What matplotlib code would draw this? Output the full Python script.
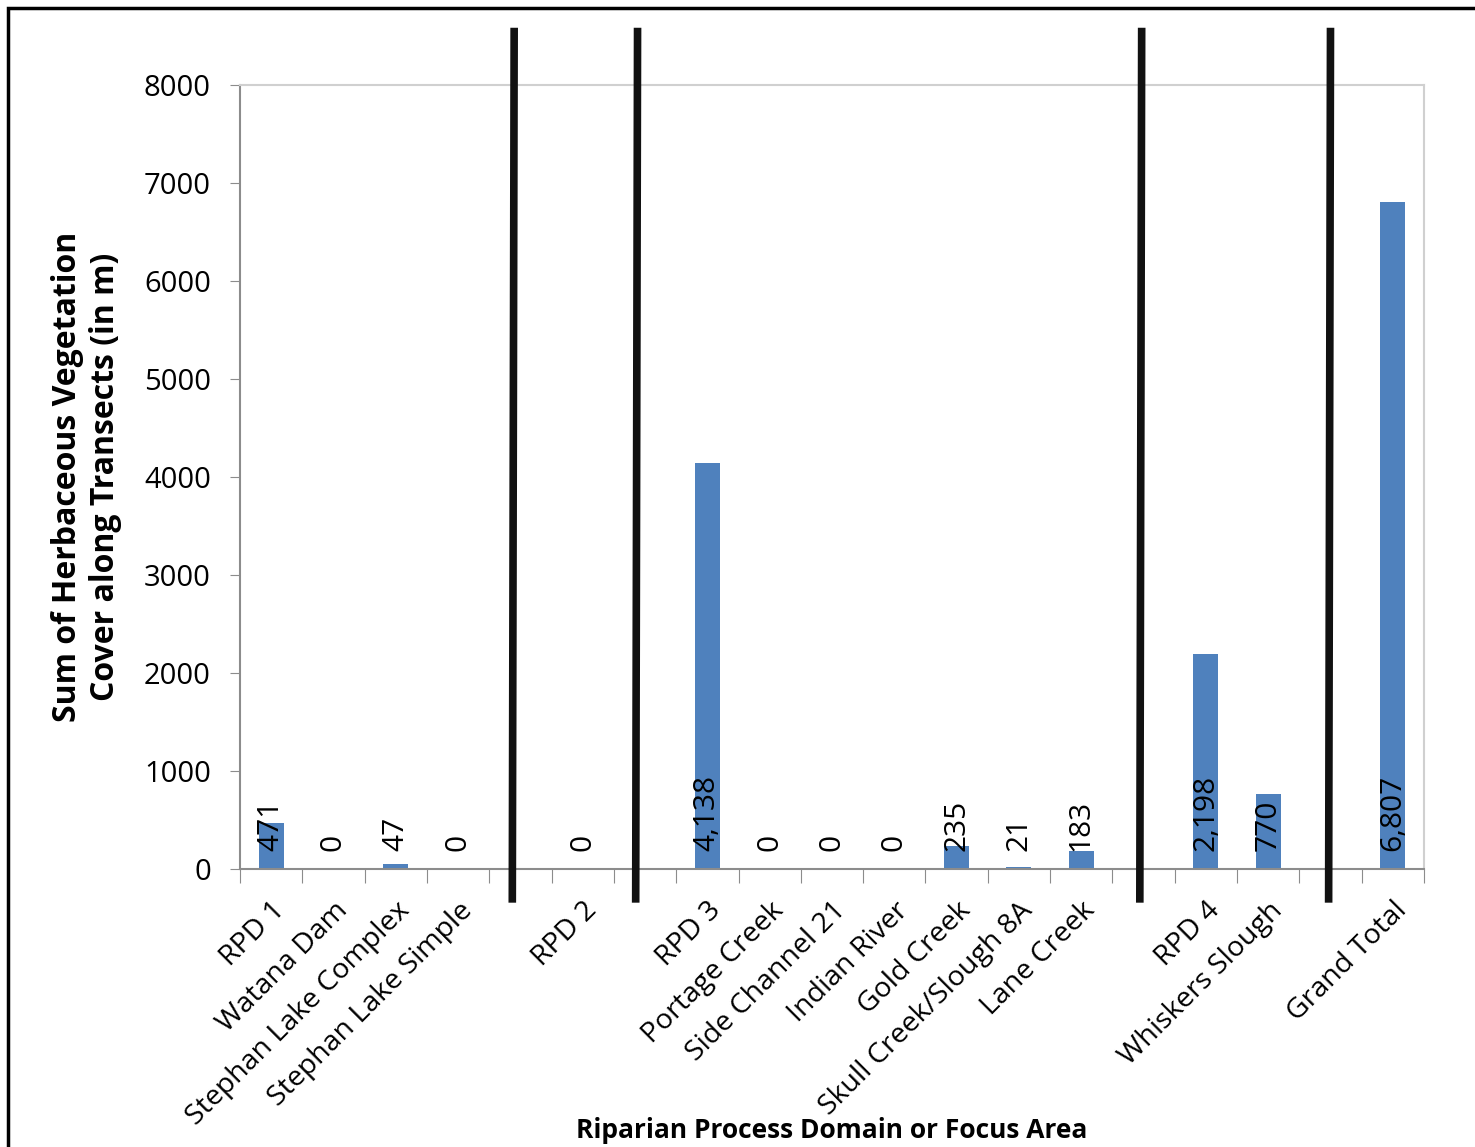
import matplotlib
matplotlib.use("Agg")
from matplotlib import pyplot as plt
from matplotlib.patches import Rectangle
import matplotlib.transforms as mtransforms
import numpy as np

plt.rcParams['font.family'] = ['Open Sans', 'DejaVu Sans']

# categories (blank strings are the empty gaps between the groups)
categories = ['RPD 1', 'Watana Dam', 'Stephan Lake Complex', 'Stephan Lake Simple', '',
              'RPD 2', '',
              'RPD 3', 'Portage Creek', 'Side Channel 21', 'Indian River', 'Gold Creek',
              'Skull Creek/Slough 8A', 'Lane Creek', '',
              'RPD 4', 'Whiskers Slough', '',
              'Grand Total']
values = [471, 0, 47, 0, None,
          0, None,
          4138, 0, 0, 0, 235, 21, 183, None,
          2198, 770, None,
          6807]

bar_color = '#4F81BD'
grey = '#8C8C8C'

fig = plt.figure(figsize=(14.75, 11.47), dpi=100)
ax = fig.add_axes([0.1627, 0.2424, 0.8027, 0.6835])

x = np.arange(len(categories))
heights = [v if v is not None else 0 for v in values]
ax.bar(x, heights, width=0.4, color=bar_color, zorder=2)

# data labels, rotated, sitting at the bar base
for xi, v in zip(x, values):
    if v is None:
        continue
    ax.annotate(f'{v:,}', xy=(xi, 0), xytext=(0, 13), textcoords='offset points',
                rotation=90, ha='center', va='bottom', fontsize=21.5, color='black', zorder=3)

ax.set_xlim(-0.5, len(categories) - 0.5)
ax.set_ylim(0, 8000)
ax.set_yticks(range(0, 8001, 1000))
ax.tick_params(axis='y', labelsize=21, length=7, color=grey, pad=14)

# category labels at centers, tick marks at boundaries (Excel style)
ax.set_xticks(np.arange(-0.5, len(categories) + 0.5, 1))
ax.set_xticklabels([])
ax.tick_params(axis='x', length=10, color=grey)
ax.set_xticks(x, minor=True)
ax.set_xticklabels(categories, minor=True, rotation=45, ha='right', rotation_mode='anchor',
                   fontsize=20.5)
ax.tick_params(axis='x', which='minor', length=0, pad=20)

for side in ['left', 'bottom']:
    ax.spines[side].set_color(grey)
    ax.spines[side].set_linewidth(1.5)
for side in ['top', 'right']:
    ax.spines[side].set_color('#D0D0D0')
    ax.spines[side].set_linewidth(1.5)

ax.set_ylabel('Sum of Herbaceous Vegetation\nCover along Transects (in m)',
              fontsize=23, fontweight='bold', linespacing=1.2)
ax.yaxis.set_label_coords(-0.1, 0.5)
ax.set_xlabel('Riparian Process Domain or Focus Area', fontsize=19, fontweight='bold')
ax.xaxis.set_label_coords(0.5, -0.316)

# thick hand-drawn separators between the domains
trans = mtransforms.blended_transform_factory(ax.transData, ax.transAxes)
for xs in [3.9, 5.88, 13.97, 17.0]:
    ax.plot([xs, xs - 0.03], [1.073, -0.043], color='#111111', lw=5.5,
            transform=trans, clip_on=False, zorder=4, solid_capstyle='butt')

# outer frame
fig.patches.append(Rectangle((8 / 1475, -0.02), 1.02, 1 - 8 / 1147 + 0.02,
                             transform=fig.transFigure, fill=False, edgecolor='black',
                             lw=2.5))

fig.savefig('out.png', dpi=100)
